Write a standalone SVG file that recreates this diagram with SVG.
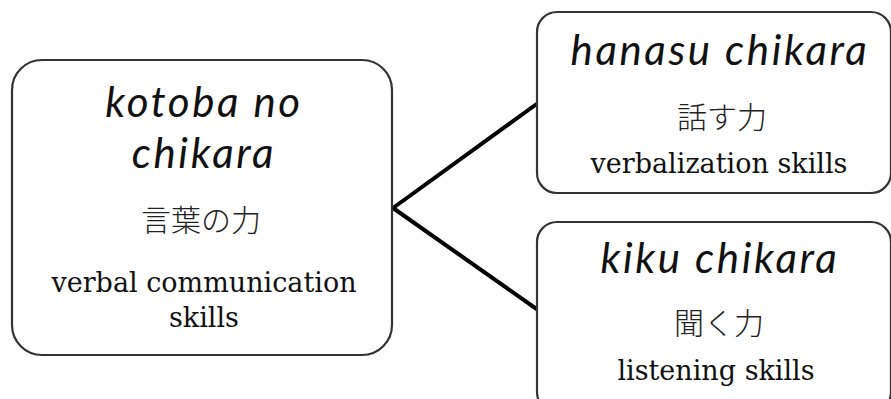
<svg xmlns="http://www.w3.org/2000/svg" width="891" height="399" viewBox="0 0 891 399">
<style>
.box{fill:#fff;stroke:#333;stroke-width:2.2}
.it{font-family:Lato,"Noto Sans",sans-serif;font-style:italic;fill:#111;text-anchor:middle;letter-spacing:2.6px}
.jp{font-family:"Noto Sans CJK JP",sans-serif;font-weight:300;fill:#222;text-anchor:middle}
.en{font-family:"DejaVu Serif","Liberation Serif",serif;fill:#111;text-anchor:middle}
.conn{stroke:#000;stroke-width:4;fill:none}
</style>
<rect width="891" height="399" fill="#fff"/>
<g id="connectors">
<line class="conn" x1="393" y1="208" x2="538" y2="103"/>
<line class="conn" x1="393" y1="208" x2="538" y2="310"/>
</g>
<g id="node-kotoba">
<rect class="box" x="12" y="60" width="380" height="295" rx="30"/>
<text class="it" font-size="42"><tspan x="204" y="117">kotoba no</tspan><tspan x="204" y="168">chikara</tspan></text>
<text class="jp" x="201" y="231" font-size="30">言葉の力</text>
<text class="en" font-size="27"><tspan x="204" y="292">verbal communication</tspan><tspan x="204" y="327">skills</tspan></text>
</g>
<g id="node-hanasu">
<rect class="box" x="537" y="12" width="354" height="181" rx="20"/>
<text class="it" x="720" y="65" font-size="42">hanasu chikara</text>
<text class="jp" x="722" y="128" font-size="30">話す力</text>
<text class="en" x="719" y="173" font-size="27">verbalization skills</text>
</g>
<g id="node-kiku">
<rect class="box" x="537" y="222" width="354" height="190" rx="20"/>
<text class="it" x="720" y="273" font-size="42">kiku chikara</text>
<text class="jp" x="719" y="334" font-size="30">聞く力</text>
<text class="en" x="716" y="380" font-size="27">listening skills</text>
</g>
</svg>
